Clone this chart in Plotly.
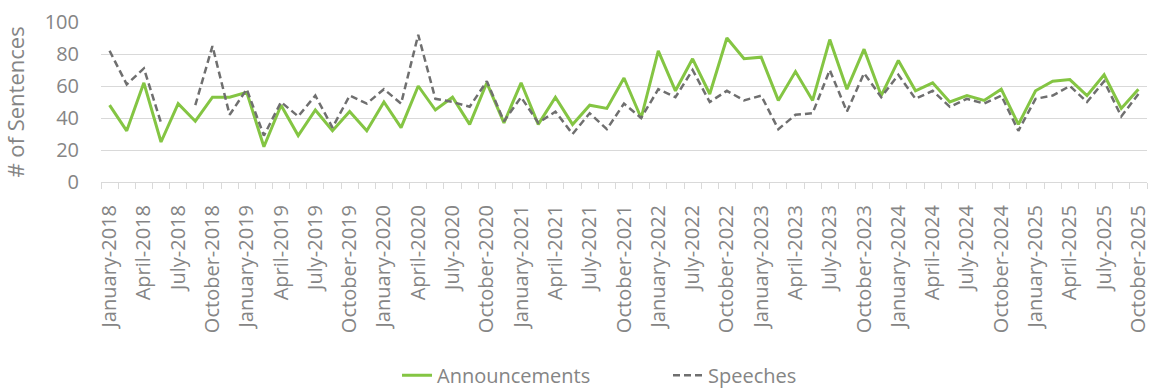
import plotly.graph_objects as go

tick_labels = [
    "January-2018", "April-2018", "July-2018", "October-2018",
    "January-2019", "April-2019", "July-2019", "October-2019",
    "January-2020", "April-2020", "July-2020", "October-2020",
    "January-2021", "April-2021", "July-2021", "October-2021",
    "January-2022", "July-2022", "October-2022",
    "January-2023", "April-2023", "July-2023", "October-2023",
    "January-2024", "April-2024", "July-2024", "October-2024",
    "January-2025", "April-2025", "July-2025", "October-2025",
]

announcements = [48, 32, 62, 25, 49, 38, 53, 53, 56, 22, 48, 29, 45, 32, 44, 32,
                 50, 34, 60, 45, 53, 36, 62, 37, 62, 36, 53, 36, 48, 46, 65, 40,
                 82, 57, 77, 55, 90, 77, 78, 51, 69, 51, 89, 58, 83, 54, 76, 57,
                 62, 50, 54, 51, 58, 36, 57, 63, 64, 54, 67, 46, 58]

speeches = [82, 61, 71, 37, None, 48, 85, 42, 58, 29, 50, 41, 54, 34, 54, 49,
            58, 49, 92, 52, 50, 47, 63, 38, 53, 37, 44, 30, 43, 33, 49, 40,
            58, 53, 70, 50, 57, 51, 54, 33, 42, 43, 70, 44, 68, 53, 67, 52,
            57, 47, 52, 49, 54, 32, 52, 54, 60, 50, 63, 41, 55]

x_idx = list(range(len(announcements)))
label_pos = x_idx[::2]

FONT = "Open Sans"
TXT = "#858585"
GRID = "#d9d9d9"

fig = go.Figure()
fig.add_trace(go.Scatter(
    x=x_idx, y=announcements, name="Announcements", mode="lines",
    line=dict(color="#84C543", width=3),
))
fig.add_trace(go.Scatter(
    x=x_idx, y=speeches, name="Speeches", mode="lines",
    line=dict(color="#6f6f6f", width=2.5, dash="7px,4px"),
    connectgaps=False,
))

fig.update_layout(
    width=1152, height=390,
    margin=dict(l=101, r=5, t=22, b=208, autoexpand=False),
    paper_bgcolor="white", plot_bgcolor="white",
    font=dict(family=FONT, size=20, color=TXT),
    showlegend=True,
    legend=dict(
        orientation="h", x=0.283, xanchor="left",
        yref="container", y=0.038, yanchor="middle",
        font=dict(family=FONT, size=20, color=TXT),
        itemwidth=30, entrywidth=226, entrywidthmode="pixels",
    ),
    xaxis=dict(
        range=[-0.5, len(announcements) - 0.5],
        tickmode="array", tickvals=label_pos, ticktext=tick_labels,
        tickangle=-90, ticks="", showgrid=False, zeroline=False,
        showline=True, linecolor=GRID, linewidth=1,
        tickfont=dict(family=FONT, size=20, color=TXT),
        ticklabelstandoff=14, ticklabeloverflow="allow",
        minor=dict(tick0=-0.5, dtick=1, ticks="outside", ticklen=6,
                   tickcolor=GRID, tickwidth=1, showgrid=False),
    ),
    yaxis=dict(
        range=[0, 100], tickmode="array", tickvals=[0, 20, 40, 60, 80, 100],
        showgrid=True, gridcolor=GRID, gridwidth=1, zeroline=False,
        showline=False, ticks="",
        tickfont=dict(family=FONT, size=20, color=TXT),
        ticklabelstandoff=21,
        title=dict(text="# of Sentences", font=dict(family=FONT, size=22, color=TXT),
                   standoff=13),
    ),
)

fig.write_html("out.html")
